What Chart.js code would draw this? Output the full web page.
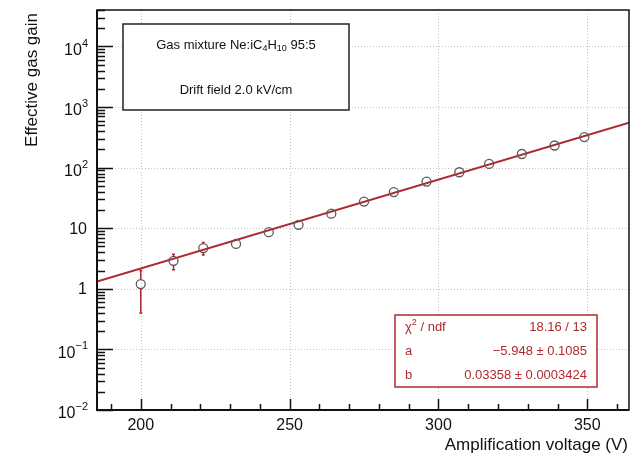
<!DOCTYPE html>
<html>
<head>
<meta charset="utf-8">
<script src="https://cdn.jsdelivr.net/npm/chart.js@4"></script>
<style>
  html, body { margin: 0; padding: 0; background: #fff; }
  #wrap { width: 635px; height: 455px; }
</style>
</head>
<body>
<div id="wrap"><canvas id="chart"></canvas></div>
<script>
// measured points
const voltage = [200, 211, 221, 232, 243, 253, 264, 275, 285, 296, 307, 317, 328, 339, 349];
const gain = [1.2, 2.9, 4.7, 5.5, 8.6, 11.4, 17.4, 27.5, 39.5, 59, 84, 115, 168, 232, 320];
const gainErr = [0.8, 0.83, 1.1, 0.3, 0.4, 0.5, 0.7, 1.0, 1.4, 2, 3, 4, 5, 7, 9];

// fit curve end points (straight line on log axis)
const fitVoltage = [185.3, 364];
const fitGain = [1.32, 550];

// axes
const xMin = 185.3;
const xMax = 364;
const yMin = 0.01;
const yMax = 40000;
const xMajor = [200, 250, 300, 350];
const xMinor = [190, 210, 220, 230, 240, 260, 270, 280, 290, 310, 320, 330, 340, 360];
const xLabels = ["200", "250", "300", "350"];
const yDecades = [-2, -1, 0, 1, 2, 3, 4];
const yLabelBase = ["10", "10", "1", "10", "10", "10", "10"];
const yLabelExp = ["\u22122", "\u22121", "", "", "2", "3", "4"];

const xTitle = "Amplification voltage (V)";
const yTitle = "Effective gas gain";

// stats box rows
const statNames = ["\u03c7", "a", "b"];
const statValues = ["18.16 / 13", "\u22125.948 \u00b1 0.1085", "0.03358 \u00b1 0.0003424"];

const FONT = '"Liberation Sans", Arial, Helvetica, sans-serif';
const RED = "#ad2a2f";

function font(size) {
    return size + "px " + FONT;
}

// draws a list of [text, size, dy] pieces
function richText(ctx, parts, x, y, align) {
    let w = 0;
    parts.forEach(p => {
        ctx.font = font(p[1]);
        w += ctx.measureText(p[0]).width;
    });
    let cx = x;
    if (align === "right") cx = x - w;
    if (align === "center") cx = x - w / 2;
    ctx.textAlign = "left";
    parts.forEach(p => {
        ctx.font = font(p[1]);
        ctx.fillText(p[0], cx, y + p[2]);
        cx += ctx.measureText(p[0]).width;
    });
}

const rootStyle = {
    id: "rootStyle",
    beforeDatasetsDraw(chart) {
        const ctx = chart.ctx;
        const a = chart.chartArea;
        const xs = chart.scales.x;
        const ys = chart.scales.y;
        ctx.save();
        ctx.strokeStyle = "#c4c4c4";
        ctx.lineWidth = 1;
        ctx.setLineDash([1, 2]);
        xMajor.forEach(v => {
            const px = Math.round(xs.getPixelForValue(v)) + 0.5;
            ctx.beginPath();
            ctx.moveTo(px, a.top);
            ctx.lineTo(px, a.bottom);
            ctx.stroke();
        });
        yDecades.forEach(d => {
            const py = Math.round(ys.getPixelForValue(Math.pow(10, d))) + 0.5;
            if (py >= a.bottom - 1) return;
            ctx.beginPath();
            ctx.moveTo(a.left, py);
            ctx.lineTo(a.right, py);
            ctx.stroke();
        });
        ctx.restore();
    },
    afterDatasetsDraw(chart) {
        const ctx = chart.ctx;
        const xs = chart.scales.x;
        const ys = chart.scales.y;
        // error bars, kept outside the marker
        ctx.save();
        ctx.strokeStyle = RED;
        ctx.lineWidth = 1.5;
        for (let i = 0; i < voltage.length; i++) {
            const px = xs.getPixelForValue(voltage[i]);
            const pc = ys.getPixelForValue(gain[i]);
            const pTop = ys.getPixelForValue(gain[i] + gainErr[i]);
            const pBot = ys.getPixelForValue(Math.max(gain[i] - gainErr[i], 0.011));
            ctx.beginPath();
            if (pc - pTop > 4.5) {
                ctx.moveTo(px, pc - 4.5);
                ctx.lineTo(px, pTop);
                ctx.moveTo(px - 1.5, pTop);
                ctx.lineTo(px + 1.5, pTop);
            }
            if (pBot - pc > 4.5) {
                ctx.moveTo(px, pc + 4.5);
                ctx.lineTo(px, pBot);
                ctx.moveTo(px - 1.5, pBot);
                ctx.lineTo(px + 1.5, pBot);
            }
            ctx.stroke();
        }
        ctx.restore();
    },
    afterDraw(chart) {
        const ctx = chart.ctx;
        const a = chart.chartArea;
        const xs = chart.scales.x;
        const ys = chart.scales.y;
        ctx.save();

        // frame
        ctx.strokeStyle = "#111";
        ctx.lineWidth = 1.5;
        ctx.strokeRect(a.left, a.top, a.right - a.left, a.bottom - a.top);
        ctx.lineWidth = 2;
        ctx.beginPath();
        ctx.moveTo(a.left, a.top);
        ctx.lineTo(a.left, a.bottom);
        ctx.lineTo(a.right, a.bottom);
        ctx.stroke();

        // y ticks
        ctx.lineWidth = 1.5;
        ctx.beginPath();
        yDecades.forEach(d => {
            for (let m = 1; m <= 9; m++) {
                const v = m * Math.pow(10, d);
                if (v > yMax) break;
                const py = Math.round(ys.getPixelForValue(v)) + 0.5;
                const len = m === 1 ? 16 : 8;
                ctx.moveTo(a.left, py);
                ctx.lineTo(a.left + len, py);
            }
        });
        // x ticks
        xMajor.forEach(v => {
            const px = Math.round(xs.getPixelForValue(v)) + 0.5;
            ctx.moveTo(px, a.bottom);
            ctx.lineTo(px, a.bottom - 11);
        });
        xMinor.forEach(v => {
            const px = Math.round(xs.getPixelForValue(v)) + 0.5;
            ctx.moveTo(px, a.bottom);
            ctx.lineTo(px, a.bottom - 6);
        });
        ctx.stroke();

        // tick labels
        ctx.fillStyle = "#111";
        ctx.textBaseline = "middle";
        yDecades.forEach((d, i) => {
            const py = ys.getPixelForValue(Math.pow(10, d));
            if (yLabelExp[i]) {
                richText(ctx, [[yLabelBase[i], 16, 4], [yLabelExp[i], 11, -3]], 88, py, "right");
            } else {
                richText(ctx, [[yLabelBase[i], 16, 1]], 87, py, "right");
            }
        });
        ctx.font = font(16);
        ctx.textAlign = "center";
        xMajor.forEach((v, i) => {
            ctx.fillText(xLabels[i], xs.getPixelForValue(v), 426);
        });

        // axis titles
        ctx.textBaseline = "alphabetic";
        ctx.font = font(17);
        ctx.textAlign = "right";
        ctx.fillText(xTitle, 628, 450);
        ctx.save();
        ctx.translate(37, 13);
        ctx.rotate(-Math.PI / 2);
        ctx.fillText(yTitle, 0, 0);
        ctx.restore();

        // info box
        ctx.fillStyle = "#fff";
        ctx.fillRect(123, 24, 226, 86);
        ctx.strokeStyle = "#222";
        ctx.lineWidth = 1.5;
        ctx.strokeRect(123, 24, 226, 86);
        ctx.fillStyle = "#111";
        ctx.textBaseline = "middle";
        richText(ctx, [["Gas mixture Ne:iC", 13, 0], ["4", 9, 3], ["H", 13, 0], ["10", 9, 3], [" 95:5", 13, 0]], 236, 45.5, "center");
        richText(ctx, [["Drift field 2.0 kV/cm", 13, 0]], 236, 90.5, "center");

        // stats box
        ctx.fillStyle = "#fff";
        ctx.fillRect(395, 315, 202, 72);
        ctx.strokeStyle = RED;
        ctx.lineWidth = 1.5;
        ctx.strokeRect(395, 315, 202, 72);
        ctx.fillStyle = RED;
        const rowY = [327, 351, 375];
        richText(ctx, [[statNames[0], 13, 0], ["2", 9, -4], [" / ndf", 13, 0]], 405, rowY[0], "left");
        richText(ctx, [[statNames[1], 13, 0]], 405, rowY[1], "left");
        richText(ctx, [[statNames[2], 13, 0]], 405, rowY[2], "left");
        statValues.forEach((s, i) => {
            richText(ctx, [[s, 13, 0]], 587, rowY[i], "right");
        });

        ctx.restore();
    }
};

const ctx = document.getElementById("chart");

const chart = new Chart(ctx, {
    type: "scatter",
    data: {
        datasets: [{
            label: "data",
            data: voltage.map((v, i) => ({ x: v, y: gain[i] })),
            pointRadius: 4.5,
            pointBorderWidth: 1.3,
            pointBorderColor: "#5a5a5a",
            pointBackgroundColor: "rgba(0,0,0,0)",
            showLine: false
        }, {
            label: "fit",
            data: fitVoltage.map((v, i) => ({ x: v, y: fitGain[i] })),
            showLine: true,
            pointRadius: 0,
            borderColor: RED,
            borderWidth: 2
        }]
    },
    options: {
        responsive: true,
        maintainAspectRatio: false,
        animation: false,
        layout: {
            padding: { left: 97, top: 10, right: 6, bottom: 45 }
        },
        scales: {
            x: { type: "linear", min: xMin, max: xMax, display: false },
            y: { type: "logarithmic", min: yMin, max: yMax, display: false }
        },
        plugins: {
            legend: { display: false },
            tooltip: { enabled: false }
        }
    },
    plugins: [rootStyle]
});
</script>
</body>
</html>
